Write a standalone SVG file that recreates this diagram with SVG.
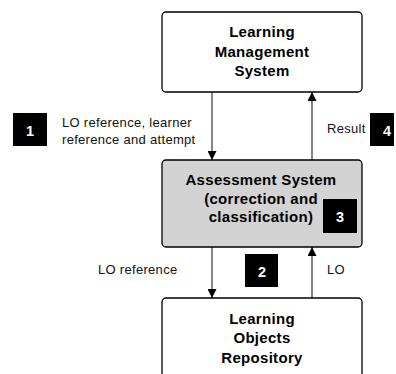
<svg xmlns="http://www.w3.org/2000/svg" width="396" height="374" viewBox="0 0 396 374">
<style>
.box{stroke:#000;stroke-width:1.3}
.title{font-family:"Liberation Sans",Arial,sans-serif;font-weight:bold;font-size:15px;letter-spacing:0.3px;text-anchor:middle;fill:#000}
.lbl{font-family:"Liberation Sans",Arial,sans-serif;font-size:13px;letter-spacing:0.3px;fill:#111}
.num{fill:#000}
.numt{font-family:"Liberation Sans",Arial,sans-serif;font-weight:bold;font-size:14.5px;text-anchor:middle;fill:#fff}
.conn{stroke:#333;stroke-width:1.2;fill:none;marker-end:url(#arr)}
</style>
<defs>
<marker id="arr" viewBox="0 0 10 10" refX="10" refY="5" markerWidth="10" markerHeight="9" markerUnits="userSpaceOnUse" orient="auto">
<path d="M0,0 L10,5 L0,10 Z" fill="#000"/>
</marker>
</defs>
<rect width="396" height="374" fill="#fff"/>
<g id="connectors">
<line class="conn" x1="212" y1="92" x2="212" y2="160"/>
<line class="conn" x1="312" y1="160" x2="312" y2="92"/>
<line class="conn" x1="212" y1="247" x2="212" y2="298"/>
<line class="conn" x1="312" y1="298" x2="312" y2="247"/>
<text class="lbl" x="62" y="127">LO reference, learner</text>
<text class="lbl" x="62" y="144">reference and attempt</text>
<text class="lbl" x="327" y="133">Result</text>
<text class="lbl" x="98" y="274">LO reference</text>
<text class="lbl" x="327" y="274">LO</text>
</g>
<g id="lms">
<rect class="box" x="162" y="12" width="200" height="80" rx="4" fill="#fff"/>
<text class="title" x="262" y="37">Learning</text>
<text class="title" x="262" y="57">Management</text>
<text class="title" x="262" y="76">System</text>
</g>
<g id="assessment">
<rect class="box" x="162" y="160" width="200" height="87" rx="4" fill="#d3d3d3"/>
<text class="title" x="261" y="185">Assessment System</text>
<text class="title" x="261" y="204">(correction and</text>
<text class="title" x="261" y="222">classification)</text>
</g>
<g id="lor">
<rect class="box" x="162" y="298" width="200" height="90" rx="4" fill="#fff"/>
<text class="title" x="262" y="324">Learning</text>
<text class="title" x="262" y="343">Objects</text>
<text class="title" x="262" y="363">Repository</text>
</g>
<g id="n1">
<rect class="num" x="13" y="113" width="34" height="33"/>
<text class="numt" x="30" y="136">1</text>
</g>
<g id="n2">
<rect class="num" x="245" y="254" width="33" height="33"/>
<text class="numt" x="262" y="277">2</text>
</g>
<g id="n3">
<rect class="num" x="323" y="199" width="34" height="34"/>
<text class="numt" x="340" y="222">3</text>
</g>
<g id="n4">
<rect class="num" x="370" y="113" width="24" height="33"/>
<text class="numt" x="387" y="136">4</text>
</g>
</svg>
